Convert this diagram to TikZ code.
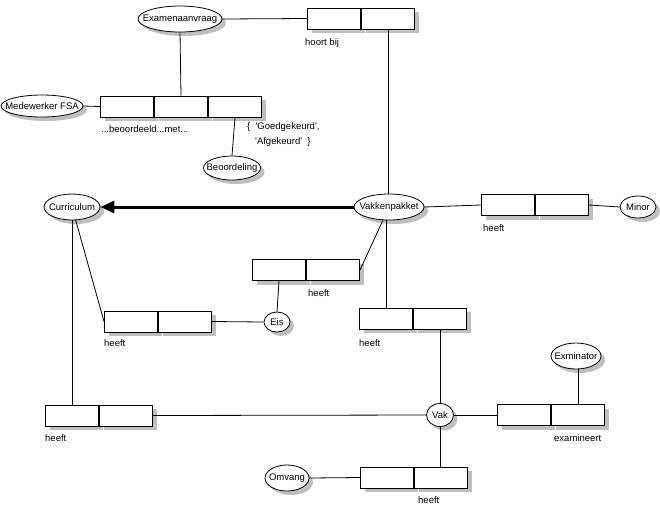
\documentclass[tikz,border=0pt]{standalone}
\usepackage{fontspec}
\setmainfont{Liberation Sans}[Ligatures=TeXOff]
\usetikzlibrary{shapes.geometric,shadows,arrows.meta}

% object type names do not widen their ellipse
\newcommand{\otname}[1]{\makebox[0pt]{#1}}

\tikzset{
  shadow/.style={drop shadow={shadow xshift=4pt, shadow yshift=-4pt, fill=black!25, opacity=1}},
  objtype/.style={ellipse, draw, fill=white, line width=0.8pt, inner sep=0pt, minimum height=24pt, shadow},
  role/.style={rectangle, draw, fill=white, line width=1pt, inner sep=0pt, minimum width=53pt, minimum height=21pt, shadow},
  factname/.style={anchor=west, inner sep=0pt},
  conn/.style={line width=0.8pt},
}

\begin{document}
\begin{tikzpicture}[x=1pt,y=-1pt,font=\fontsize{9.5}{11}\selectfont]
\useasboundingbox (0,0) rectangle (660,512);
% object types
\node[objtype, minimum width=84pt, minimum height=26pt] (exa) at (180,19) {\otname{Examenaanvraag}};
\node[objtype, minimum width=82pt, minimum height=22pt] (mfsa) at (42,106) {\otname{Medewerker FSA}};
\node[objtype, minimum width=57pt] (beo) at (232,168) {\otname{Beoordeling}};
\node[objtype, minimum width=56pt, minimum height=26pt] (cu) at (72,207) {\otname{Curriculum}};
\node[objtype, minimum width=70pt, minimum height=26pt] (vp) at (389,207) {\otname{Vakkenpakket}};
\node[objtype, minimum width=36pt, minimum height=22pt] (mnr) at (638,207) {\otname{Minor}};
\node[objtype, minimum width=26pt, minimum height=20pt] (eis) at (277,322) {\otname{Eis}};
\node[objtype, minimum width=50pt, minimum height=26pt] (exm) at (576,356) {\otname{Exminator}};
\node[objtype, minimum width=27pt, minimum height=23pt] (vak) at (440,415) {\otname{Vak}};
\node[objtype, minimum width=44pt, minimum height=26pt] (omv) at (287,478) {\otname{Omvang}};
% fact types
\node[role, anchor=west] (hb1) at (307,18.5) {};
\node[role, anchor=west] (hb2) at (hb1.east) {};
\node[role, anchor=west] (bm1) at (100,106.5) {};
\node[role, anchor=west] (bm2) at (bm1.east) {};
\node[role, anchor=west] (bm3) at (bm2.east) {};
\node[role, anchor=west] (mi1) at (481,205) {};
\node[role, anchor=west] (mi2) at (mi1.east) {};
\node[role, anchor=west] (ev1) at (252,270) {};
\node[role, anchor=west] (ev2) at (ev1.east) {};
\node[role, anchor=west] (ce1) at (104,321.5) {};
\node[role, anchor=west] (ce2) at (ce1.east) {};
\node[role, anchor=west] (vv1) at (359,318.5) {};
\node[role, anchor=west] (vv2) at (vv1.east) {};
\node[role, anchor=west] (cv1) at (45,415.5) {};
\node[role, anchor=west] (cv2) at (cv1.east) {};
\node[role, anchor=west] (ex1) at (497,415) {};
\node[role, anchor=west] (ex2) at (ex1.east) {};
\node[role, anchor=west] (om1) at (360,477.5) {};
\node[role, anchor=west] (om2) at (om1.east) {};
% fact type names
\node[factname] (n-hb) at (305,43) {hoort bij};
\node[factname] (n-bm) at (101,129) {...beoordeeld...met...};
\node[factname] (vc1) at (247,127) {\{\ \ 'Goedgekeurd',};
\node[factname] (vc2) at (255,142) {'Afgekeurd'\ \ \}};
\node[factname] (n-mi) at (483,228) {heeft};
\node[factname] (n-ev) at (308,293) {heeft};
\node[factname] (n-ce) at (104,343) {heeft};
\node[factname] (n-vv) at (359,343) {heeft};
\node[factname] (n-cv) at (45,438) {heeft};
\node[factname] (n-ex) at (554,438) {examineert};
\node[factname] (n-om) at (418,500) {heeft};
% connectors
\draw[conn] (exa.east) -- (hb1.west);
\draw[conn] (hb2.south) -- (hb2.south |- vp.north);
\draw[conn] (exa.south) -- (bm2.north);
\draw[conn] (mfsa.east) -- (bm1.west);
\draw[conn] (bm3.south) -- (beo.north);
\draw[line width=3pt, -{Triangle[length=14pt,width=12pt]}] (vp.west) -- (cu.east);
\draw[conn] (vp.east) -- (mi1.west);
\draw[conn] (mi2.east) -- (mnr.west);
\draw[conn] (vp) -- (ev2.east);
\draw[conn] (vv1.north |- vp.south) -- (vv1.north);
\draw[conn] (ev1.south) -- (eis.north);
\draw[conn] (cu) -- (ce1.west);
\draw[conn] (ce2.east) -- (eis.west);
\draw[conn] (cv1.north |- cu.south) -- (cv1.north);
\draw[conn] (cv2.east) -- (vak.west);
\draw[conn] (vv2.south) -- (vv2.south |- vak.north);
\draw[conn] (vak.east) -- (ex1.west);
\draw[conn] (ex2.north) -- (ex2.north |- exm.south);
\draw[conn] (vak.south) -- (vak.south |- om2.north);
\draw[conn] (omv.east) -- (om1.west);
\end{tikzpicture}
\end{document}
